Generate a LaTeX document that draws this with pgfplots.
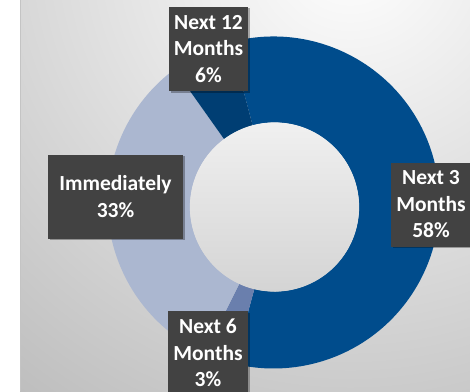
\documentclass[border=0pt]{standalone}
\usepackage{pgfplots}
\pgfplotsset{compat=1.18}
\usepackage{pgfplotstable}
\usepackage{fontspec}
\setmainfont{Carlito}
\usetikzlibrary{shadows}
\definecolor{cA}{HTML}{004C8C}
\definecolor{cB}{HTML}{6A7FAD}
\definecolor{cC}{HTML}{ABB7D0}
\definecolor{cD}{HTML}{003E73}
\definecolor{boxc}{HTML}{424242}
\definecolor{bgout}{HTML}{BDBDBD}
\definecolor{edgec}{HTML}{C4C4C4}
\definecolor{holetop}{HTML}{F0F0F0}
\definecolor{holebot}{HTML}{D4D4D4}

\pgfplotstableread[col sep=comma]{
label,value
Next 3 Months,58
Next 6 Months,3
Immediately,33
Next 12 Months,6
}\donutdata

\newcommand\slice[3]{%
  \fill[#3] ([shift={(#1:166bp)}]axis cs:273.5,188.5) arc[start angle=#1,end angle=#2,radius=166bp]
    -- ([shift={(#2:84.5bp)}]axis cs:274.5,184) arc[start angle=#2,end angle=#1,radius=84.5bp] -- cycle;}

\tikzset{lbl/.style={fill=boxc, text=white, inner sep=0pt, align=center,
  font=\fontsize{21.5bp}{26.5bp}\selectfont\bfseries, minimum height=84bp,
  drop shadow={shadow xshift=1.5bp, shadow yshift=-1.5bp, opacity=0.3, fill=black}}}

\begin{document}
\begin{tikzpicture}
\pgfplotstablegetelem{0}{value}\of\donutdata \xdef\vA{\pgfplotsretval}
\pgfplotstablegetelem{1}{value}\of\donutdata \xdef\vB{\pgfplotsretval}
\pgfplotstablegetelem{2}{value}\of\donutdata \xdef\vC{\pgfplotsretval}
\pgfplotstablegetelem{3}{value}\of\donutdata \xdef\vD{\pgfplotsretval}
\pgfmathsetmacro\tmp{105}\xdef\aA{\tmp}
\pgfmathsetmacro\tmp{\aA-3.6*\vA}\xdef\aB{\tmp}
\pgfmathsetmacro\tmp{\aB-3.6*\vB}\xdef\aC{\tmp}
\pgfmathsetmacro\tmp{\aC-3.6*\vC}\xdef\aD{\tmp}
\pgfmathsetmacro\tmp{\aD-3.6*\vD}\xdef\aE{\tmp}
\begin{axis}[name=ax, x=1bp, y=1bp, xmin=0, xmax=470, ymin=0, ymax=391,
  hide axis, clip=true, anchor=south west, at={(0,0)}]
  \fill[white] (axis cs:0,0) rectangle (axis cs:470,391);
  \begin{scope}
    \clip (axis cs:20,0) rectangle (axis cs:470,391);
    \fill[bgout] (axis cs:20,0) rectangle (axis cs:470,391);
    \shade[inner color=white, outer color=bgout] (axis cs:350,441) circle[radius=560bp];
  \end{scope}
  \draw[edgec, line width=0.8bp] (axis cs:20.5,0) -- (axis cs:20.5,391);
  \slice{\aA}{\aB}{cA}
  \slice{\aB}{\aC}{cB}
  \slice{\aC}{\aD}{cC}
  \slice{\aD}{\aE}{cD}
  \shade[top color=holetop, bottom color=holebot] (axis cs:274.5,184) circle[radius=84.6bp];
  \node[lbl, minimum width=79bp] at (axis cs:208.5,342) {Next 12\\Months\\\vD\%};
  \node[lbl, minimum width=135bp] at (axis cs:115.5,194.5) {Immediately\\\vC\%};
  \node[lbl, minimum width=80bp] at (axis cs:431,186.5) {Next 3\\Months\\\vA\%};
  \node[lbl, minimum width=80bp] at (axis cs:208,38) {Next 6\\Months\\\vB\%};
\end{axis}
\pgfresetboundingbox
\path[use as bounding box] (ax.south west) rectangle (ax.north east);
\end{tikzpicture}
\end{document}
